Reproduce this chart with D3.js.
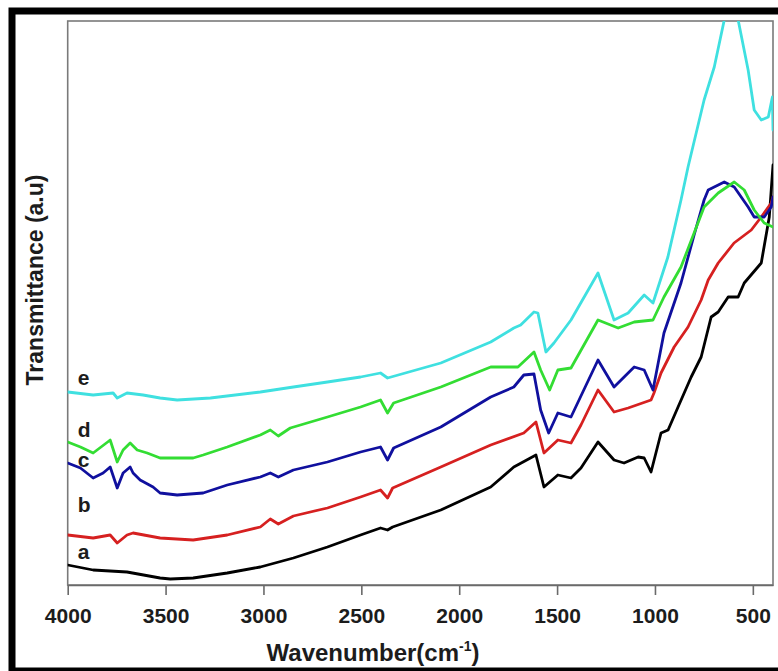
<!DOCTYPE html>
<html>
<head>
<meta charset="utf-8">
<script src="https://cdn.jsdelivr.net/npm/d3@7/dist/d3.min.js"></script>
<style>
  html, body { margin: 0; padding: 0; background: #fff; }
  svg { display: block; }
</style>
</head>
<body>
<div id="chart"></div>
<script>
// ---- Data (wavenumber cm^-1, transmittance a.u.) ----
const xTicks = [4000, 3500, 3000, 2500, 2000, 1500, 1000, 500];
const seriesNames = ["a", "b", "c", "d", "e"];
const seriesColors = ["#000000", "#d62020", "#10109e", "#33dd33", "#3fe0e0"];

const seriesA = [[4000,20],[3870,15],[3697,13],[3528,7],[3476,6],[3359,7],[3185,12],[3016,18],[2847,27],[2673,38],[2504,50],[2402,57],[2366,55],[2340,58],[2094,75],[1839,98],[1721,118],[1608,130],[1567,98],[1496,110],[1429,107],[1378,117],[1291,143],[1209,125],[1158,122],[1086,128],[1055,127],[1020,113],[969,152],[933,155],[882,178],[815,208],[764,228],[713,268],[677,273],[626,288],[575,288],[544,302],[457,322],[416,368],[397,420]];

const seriesB = [[4000,50],[3870,47],[3783,50],[3747,42],[3697,50],[3666,52],[3528,47],[3359,45],[3185,50],[3016,58],[2965,66],[2924,61],[2847,69],[2673,77],[2504,88],[2402,95],[2366,87],[2340,97],[2094,118],[1839,140],[1670,152],[1608,163],[1567,132],[1496,145],[1429,142],[1378,160],[1291,195],[1209,173],[1137,177],[1020,185],[1005,192],[969,212],[902,238],[831,258],[764,285],[728,305],[677,322],[596,342],[508,355],[457,368],[406,382],[397,388]];

const seriesC = [[4000,122],[3935,117],[3870,107],[3819,112],[3783,118],[3747,97],[3717,112],[3681,118],[3666,112],[3630,105],[3564,98],[3528,92],[3441,90],[3308,92],[3185,100],[3016,108],[2965,112],[2924,108],[2847,115],[2673,123],[2504,133],[2402,138],[2366,125],[2335,137],[2094,158],[1839,188],[1721,198],[1670,210],[1618,211],[1584,175],[1543,152],[1496,172],[1429,168],[1291,225],[1209,198],[1106,218],[1055,215],[1010,195],[954,252],[867,302],[800,350],[749,385],[728,395],[646,403],[595,398],[524,378],[493,368],[442,368],[406,378],[397,388]];

const seriesD = [[4000,143],[3935,138],[3870,132],[3796,143],[3783,145],[3747,123],[3717,135],[3681,142],[3645,135],[3594,132],[3528,127],[3359,127],[3308,130],[3185,138],[3016,150],[2965,155],[2924,149],[2863,157],[2673,168],[2504,178],[2402,185],[2366,172],[2335,182],[2094,198],[1839,218],[1700,218],[1618,233],[1584,215],[1538,195],[1496,215],[1429,217],[1291,265],[1188,257],[1106,263],[1010,265],[954,288],[867,318],[800,352],[749,378],[677,392],[595,403],[544,395],[493,375],[442,362],[397,358]];

const seriesE = [[4000,193],[3870,190],[3768,192],[3747,187],[3697,192],[3615,190],[3528,187],[3441,185],[3271,187],[3016,193],[2847,198],[2673,203],[2504,208],[2402,212],[2366,207],[2094,222],[1839,243],[1721,257],[1686,260],[1618,273],[1598,272],[1557,233],[1516,242],[1429,265],[1291,312],[1209,265],[1137,272],[1055,290],[1010,282],[934,328],[867,385],[831,418],[749,485],[697,518],[646,565],[620,582],[595,575],[575,565],[524,515],[493,475],[457,465],[421,468],[400,488],[397,455]];

const seriesData = [seriesA, seriesB, seriesC, seriesD, seriesE];
const labelPos = [[4000,26],[4000,73],[4000,118],[4000,148],[4000,200]];

// ---- Layout ----
const W = 778, H = 671;
const L = 67.7, R = 773, T = 21, B = 585;

const svg = d3.select("#chart").append("svg")
  .attr("width", W).attr("height", H);

const x = d3.scaleLinear().domain([4000, 397]).range([L, R]);
const y = d3.scaleLinear().domain([0, 564]).range([B, T]);

const FONT = "'Liberation Sans', Arial, Helvetica, sans-serif";

// outer black frame
svg.append("rect")
  .attr("x", 12).attr("y", 11).attr("width", 800).attr("height", 660)
  .attr("fill", "none").attr("stroke", "#000").attr("stroke-width", 7);

// clip
svg.append("clipPath").attr("id", "plotclip")
  .append("rect").attr("x", L).attr("y", T).attr("width", R - L).attr("height", B - T);

// plot box
svg.append("rect")
  .attr("x", L).attr("y", T).attr("width", R - L).attr("height", B - T)
  .attr("fill", "none").attr("stroke", "#7a7a7a").attr("stroke-width", 1.6);

// lines
const line = d3.line().x(d => x(d[0])).y(d => y(d[1])).curve(d3.curveLinear);
const g = svg.append("g").attr("clip-path", "url(#plotclip)");
seriesData.forEach((s, i) => {
  g.append("path")
    .datum(s)
    .attr("d", line)
    .attr("fill", "none")
    .attr("stroke", seriesColors[i])
    .attr("stroke-width", 2.8)
    .attr("stroke-linejoin", "round")
    .attr("stroke-linecap", "round");
});

// x axis
const xAxis = d3.axisBottom(x).tickValues(xTicks).tickSize(10).tickSizeOuter(0).tickFormat(d3.format("d"));
const ax = svg.append("g").attr("transform", `translate(0,${B})`).call(xAxis);
ax.select(".domain").attr("stroke", "#6a6a6a").attr("stroke-width", 1.6);
ax.selectAll(".tick line").attr("stroke", "#6a6a6a").attr("stroke-width", 1.6);
ax.selectAll(".tick text")
  .attr("y", 37.5).attr("dy", null)
  .attr("fill", "#1c1c1c")
  .style("font-family", FONT).style("font-size", "21px").style("font-weight", "bold");

// x title
const xt = svg.append("text")
  .attr("x", 373).attr("y", 661)
  .attr("text-anchor", "middle")
  .attr("fill", "#1c1c1c")
  .style("font-family", FONT).style("font-size", "24px").style("font-weight", "bold");
xt.append("tspan").text("Wavenumber(cm");
xt.append("tspan").attr("dy", -10).style("font-size", "14px").text("-1");
xt.append("tspan").attr("dy", 10).text(")");

// y title
svg.append("text")
  .attr("transform", "translate(43,280) rotate(-90)")
  .attr("text-anchor", "middle")
  .attr("fill", "#1c1c1c")
  .style("font-family", FONT).style("font-size", "23px").style("font-weight", "bold")
  .text("Transmittance (a.u)");

// series labels
seriesNames.forEach((n, i) => {
  svg.append("text")
    .attr("x", x(labelPos[i][0]) + 10)
    .attr("y", y(labelPos[i][1]))
    .attr("fill", "#1c1c1c")
    .style("font-family", FONT).style("font-size", "21px").style("font-weight", "bold")
    .text(n);
});
</script>
</body>
</html>
